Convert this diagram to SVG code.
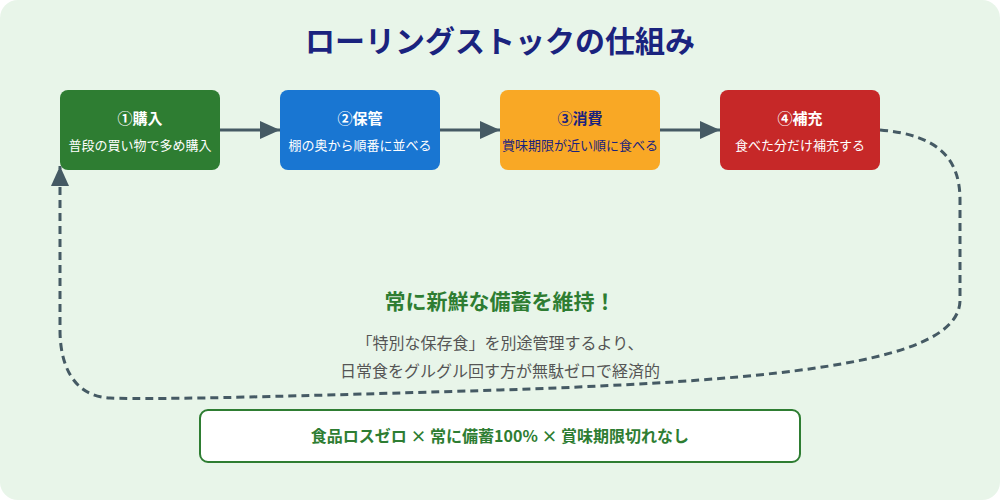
<svg xmlns="http://www.w3.org/2000/svg" width="1000" height="500" viewBox="0 0 1000 500">
<style>
text{font-family:"Noto Sans CJK JP","Noto Sans",sans-serif;text-anchor:middle}
.t{font-size:15px;font-weight:bold;fill:#fff}
.s{font-size:13px;fill:#fff}
.c{stroke:#455a64;stroke-width:3;fill:none}
</style>
<defs>
<marker id="b" markerWidth="20" markerHeight="18" refX="20" refY="9" orient="auto" markerUnits="userSpaceOnUse"><path d="M0,0L20,9L0,18z" fill="#455a64"/></marker></defs>
<rect x="0" y="0" width="1000" height="500" rx="18" fill="#e8f5e9"/>
<text x="500" y="52" font-size="30" font-weight="bold" fill="#1a237e">ローリングストックの仕組み</text>
<g id="connectors">
<path class="c" d="M220,130H280" marker-end="url(#b)"/>
<path class="c" d="M440,130H500" marker-end="url(#b)"/>
<path class="c" d="M660,130H720" marker-end="url(#b)"/>
<path class="c" d="M880,130C940,135 960,160 960,200V300C960,360 800,380 500,390C300,396 160,400 110,398C70,396 60,360 60,330V166" stroke-dasharray="8,5" marker-end="url(#b)"/>
</g>
<g id="n1"><rect x="60" y="90" width="160" height="80" rx="8" fill="#2e7d32"/><text class="t" x="140" y="124">①購入</text><text class="s" x="140" y="150">普段の買い物で多め購入</text></g>
<g id="n2"><rect x="280" y="90" width="160" height="80" rx="8" fill="#1976d2"/><text class="t" x="360" y="124">②保管</text><text class="s" x="360" y="150">棚の奥から順番に並べる</text></g>
<g id="n3"><rect x="500" y="90" width="160" height="80" rx="8" fill="#f9a825"/><text class="t" x="580" y="124" style="fill:#1a237e">③消費</text><text class="s" x="580" y="150" style="fill:#1a237e">賞味期限が近い順に食べる</text></g>
<g id="n4"><rect x="720" y="90" width="160" height="80" rx="8" fill="#c62828"/><text class="t" x="800" y="124">④補充</text><text class="s" x="800" y="150">食べた分だけ補充する</text></g>
<text x="500" y="309" font-size="21" font-weight="bold" fill="#2e7d32">常に新鮮な備蓄を維持！</text>
<text x="500" y="349" font-size="16" fill="#555">「特別な保存食」を別途管理するより、</text>
<text x="500" y="377" font-size="16" fill="#555">日常食をグルグル回す方が無駄ゼロで経済的</text>
<g id="summary"><rect x="200" y="410" width="600" height="52" rx="8" fill="#fff" stroke="#2e7d32" stroke-width="2"/><text x="500" y="442" font-size="16" font-weight="bold" fill="#2e7d32">食品ロスゼロ × 常に備蓄100% × 賞味期限切れなし</text></g>
</svg>
